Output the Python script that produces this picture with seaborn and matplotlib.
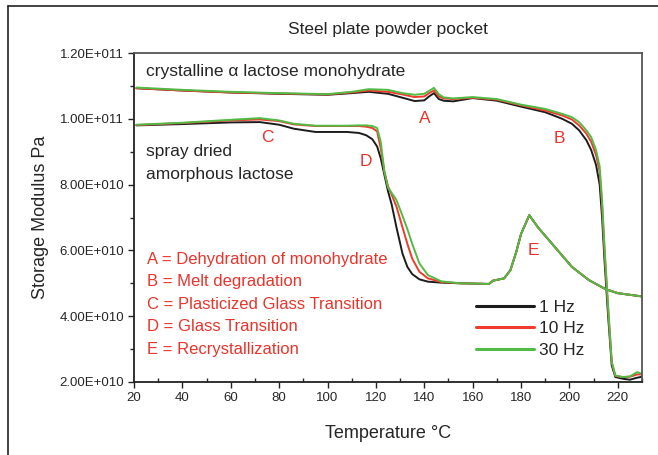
import numpy as np
import pandas as pd
import seaborn as sns
import matplotlib.pyplot as plt
from matplotlib.ticker import MultipleLocator, FuncFormatter
from matplotlib.lines import Line2D

# crystalline alpha lactose monohydrate (values in 1e9 Pa)
t_cryst = [21, 40, 60, 80, 100, 110, 117, 125, 131, 136, 140, 142, 144, 146, 148, 152,
           160, 170, 180, 190, 197, 201, 204, 207, 209, 211, 212.5, 213.5, 214.5, 216, 217.5,
           219, 222, 225, 228, 230]
cryst_1hz = [109.3, 108.6, 108.0, 107.6, 107.3, 107.8, 108.2, 107.6, 106.4, 105.4, 105.6, 106.8,
             107.8, 106.0, 105.5, 105.3, 106.3, 105.5, 103.7, 102.0, 100.0, 98.5, 96.5, 93.5,
             90.5, 86.0, 80.0, 70.0, 57.0, 40.0, 25.0, 21.5, 21.0, 20.7, 21.3, 21.6]
cryst_10hz = [109.3, 108.6, 108.0, 107.7, 107.4, 108.0, 108.6, 108.2, 107.4, 106.6, 106.8, 107.8,
              108.6, 106.8, 106.2, 106.0, 106.4, 105.8, 104.1, 102.5, 101.0, 99.8, 98.0, 95.5,
              93.0, 89.0, 84.0, 74.0, 60.0, 42.0, 26.0, 21.8, 21.5, 21.6, 22.3, 22.3]
cryst_30hz = [109.5, 108.8, 108.2, 107.8, 107.5, 108.2, 109.0, 108.8, 107.8, 107.3, 107.6, 108.5,
              109.4, 107.5, 106.5, 106.2, 106.6, 106.0, 104.3, 103.0, 101.5, 100.5, 99.0, 96.5,
              94.4, 90.5, 85.5, 75.0, 61.0, 43.0, 26.0, 22.0, 21.5, 21.7, 23.0, 22.5]

# spray dried amorphous lactose
t_amorph = [21, 40, 60, 72, 80, 86, 95, 108, 113, 116, 118.5, 120.5, 122, 123.5, 125, 126.5,
            128.5, 131, 133, 135, 138, 141.5, 147]
amorph_1hz = [98.0, 98.4, 98.9, 99.0, 98.2, 97.0, 96.0, 96.0, 95.7, 95.0, 93.8, 91.6, 88.0,
              83.0, 78.0, 74.0, 67.0, 59.0, 55.0, 52.8, 51.2, 50.5, 50.2]
amorph_10hz = [98.1, 98.7, 99.5, 99.8, 99.3, 98.3, 97.8, 97.8, 97.8, 97.6, 97.2, 96.2, 91.0,
               84.0, 79.5, 77.0, 73.3, 67.0, 62.0, 57.5, 53.5, 51.5, 50.4]
amorph_30hz = [98.2, 98.8, 99.7, 100.2, 99.5, 98.5, 97.9, 97.9, 98.0, 98.0, 97.8, 97.2, 93.0,
               84.0, 79.0, 77.5, 75.3, 70.5, 66.5, 62.0, 56.0, 52.5, 50.6]
# tail common to all frequencies
t_tail = [155, 166.7, 168.4, 173, 175.6, 178, 180, 183.4, 187, 194, 201, 208, 215, 220, 230]
amorph_tail = [50.0, 49.8, 50.8, 51.5, 54.0, 59.5, 65.0, 70.7, 67.0, 61.0, 55.0, 51.0, 48.2,
               47.0, 46.0]

freqs = ['1 Hz', '10 Hz', '30 Hz']
colors = ['#1c1c1c', '#ee3b2e', '#52bb45']

rows = []
for f, c, a in zip(freqs, [cryst_1hz, cryst_10hz, cryst_30hz], [amorph_1hz, amorph_10hz, amorph_30hz]):
    for t, y in zip(t_cryst, c):
        rows.append((t, y * 1e9, f, 'cryst'))
    for t, y in zip(t_amorph + t_tail, a + amorph_tail):
        rows.append((t, y * 1e9, f, 'amorph'))
df = pd.DataFrame(rows, columns=['T', 'E', 'freq', 'sample'])

sns.set_theme(style='ticks')
plt.rcParams['font.family'] = ['Liberation Sans', 'DejaVu Sans']

fig = plt.figure(figsize=(6.58, 4.55), dpi=100)
ax = fig.add_axes([134 / 658, 73 / 455, 508 / 658, 329 / 455])

sns.lineplot(data=df, x='T', y='E', hue='freq', units='sample', estimator=None, sort=False,
             palette=dict(zip(freqs, colors)), linewidth=1.4, ax=ax)

ax.set_xlim(20, 230)
ax.set_ylim(2e10, 1.2e11)
ax.xaxis.set_major_locator(MultipleLocator(20))
ax.xaxis.set_minor_locator(MultipleLocator(10))
ax.yaxis.set_major_locator(MultipleLocator(2e10))
ax.yaxis.set_minor_locator(MultipleLocator(1e10))


def sci(v, pos):
    m, e = f'{v:.2E}'.split('E')
    return f'{m}E{e[0]}{int(e[1:]):03d}'


ax.yaxis.set_major_formatter(FuncFormatter(sci))
ax.tick_params(axis='both', which='major', labelsize=9.5, length=4, width=1, color='#222222', pad=3)
ax.tick_params(axis='x', which='minor', direction='in', length=3, width=1)
ax.tick_params(axis='y', which='minor', direction='out', length=3, width=1)
for s in ['left', 'bottom']:
    ax.spines[s].set_linewidth(1.3)
    ax.spines[s].set_color('#222222')
for s in ['top', 'right']:
    ax.spines[s].set_linewidth(1.3)
    ax.spines[s].set_color('#555555')

ax.set_xlabel('Temperature °C', fontsize=13, labelpad=15)
ax.set_ylabel('Storage Modulus Pa', fontsize=13, labelpad=8)
ax.set_title('Steel plate powder pocket', fontsize=12.5, pad=14)

ax.text(25, 1.143e11, 'crystalline α lactose monohydrate', fontsize=12.5, va='center')
ax.text(25, 9.0e10, 'spray dried', fontsize=12.5, va='center')
ax.text(25, 8.3e10, 'amorphous lactose', fontsize=12.5, va='center')

red = '#e8352c'
for lab, x, y in [('A', 140.3, 1.0e11), ('B', 196, 9.4e10), ('C', 75, 9.44e10),
                  ('D', 115.8, 8.69e10), ('E', 185.3, 5.99e10)]:
    ax.text(x, y, lab, color=red, fontsize=12.5, ha='center', va='center')

notes = ['A = Dehydration of monohydrate', 'B = Melt degradation',
         'C = Plasticized Glass Transition', 'D = Glass Transition', 'E = Recrystallization']
for i, n in enumerate(notes):
    ax.text(25.2, 5.73e10 - i * 6.85e9, n, color=red, fontsize=12, va='center')

leg = ax.legend(loc='upper left', bbox_to_anchor=(0.66, 0.27), frameon=False, fontsize=12.5,
                handlelength=3.3, handletextpad=0.3, labelspacing=0.35, borderaxespad=0)
for h in leg.get_lines():
    h.set_linewidth(2.2)

# outer frame of the original figure
fig.add_artist(Line2D([8 / 658, 8 / 658], [0, 1 - 6 / 455], color='#222222', lw=1.2))
fig.add_artist(Line2D([8 / 658, 1], [1 - 6 / 455, 1 - 6 / 455], color='#222222', lw=1.2))

fig.savefig('out.png', dpi=100)
